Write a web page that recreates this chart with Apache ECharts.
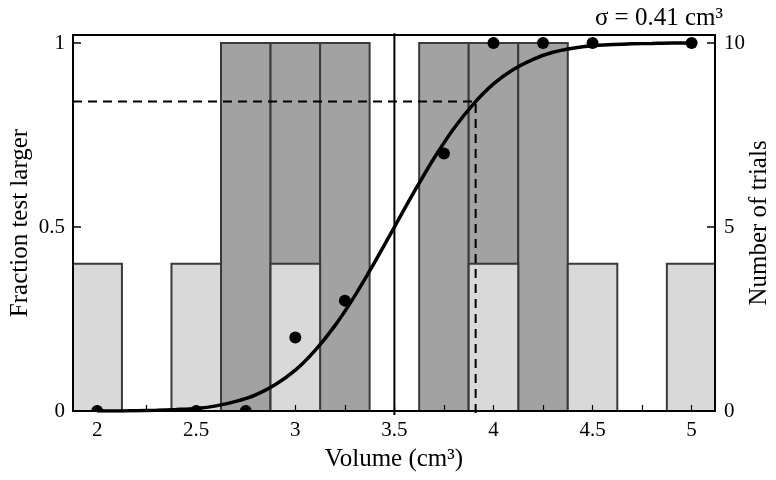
<!DOCTYPE html>
<html>
<head>
<meta charset="utf-8">
<script src="https://cdn.jsdelivr.net/npm/echarts@6/dist/echarts.min.js"></script>
<style>
  html, body { margin: 0; padding: 0; background: #fff; }
  #main { width: 776px; height: 480px; }
</style>
</head>
<body>
<div id="main"></div>
<script>
// test volumes (cm3) and their trial counts
var darkVolumes = [2.75, 3, 3.25, 3.75, 4, 4.25];
var darkTrials  = [10, 10, 10, 10, 10, 10];
var lightVolumes = [2, 2.5, 3, 4, 4.5, 5];
var lightTrials  = [4, 4, 4, 4, 4, 4];

// fraction of trials where test judged larger
var pointVolumes  = [2, 2.5, 2.75, 3, 3.25, 3.75, 4, 4.25, 4.5, 5];
var pointFraction = [0, 0, 0, 0.2, 0.3, 0.7, 1, 1, 1, 1];

// fitted curve
var curveX = [2.0, 2.1, 2.2, 2.3, 2.4, 2.5, 2.6, 2.7, 2.8, 2.9, 3.0, 3.1, 3.2, 3.3, 3.4, 3.5,
              3.6, 3.7, 3.8, 3.9, 4.0, 4.1, 4.2, 4.3, 4.4, 4.5, 4.6, 4.7, 4.8, 4.9, 5.0];
var curveY = [0.000, 0.000, 0.001, 0.002, 0.004, 0.007, 0.014, 0.026, 0.044, 0.072, 0.111, 0.165, 0.232, 0.313, 0.404, 0.500,
              0.596, 0.687, 0.768, 0.835, 0.889, 0.928, 0.956, 0.975, 0.986, 0.993, 0.996, 0.998, 0.999, 1.000, 1.000];

var xLabels = [2, 2.5, 3, 3.5, 4, 4.5, 5];
var xTicks = [2, 2.25, 2.5, 2.75, 3, 3.25, 3.5, 3.75, 4, 4.25, 4.5, 4.75, 5];
var leftTicks = [0, 0.5, 1];
var rightTicks = [0, 5, 10];

var MEAN = 3.5;      // point of subjective equality
var SIGMA = 0.41;
var FRAC_SIGMA = 0.841;
var BIN = 0.25;

var X_MIN = 1.878, X_MAX = 5.118;

var myChart = echarts.init(document.getElementById('main'));

function barRenderer(fill) {
    return function (params, api) {
        var x = api.value(0), h = api.value(1);
        var p0 = api.coord([x - BIN / 2, 0]);
        var p1 = api.coord([x + BIN / 2, h]);
        return {
            type: 'rect',
            shape: { x: p0[0], y: p1[1], width: p1[0] - p0[0], height: p0[1] - p1[1] },
            style: { fill: fill, stroke: '#3a3a3a', lineWidth: 2 }
        };
    };
}

// dots as custom so they get cut at the frame like the original
function dotRenderer(params, api) {
    var p = api.coord([api.value(0), api.value(1)]);
    return {
        type: 'circle',
        shape: { cx: p[0], cy: p[1], r: 6 },
        style: { fill: '#000' }
    };
}

function zip(a, b) {
    return a.map(function (v, i) { return [v, b[i]]; });
}

var black = '#000';

option = {
    animation: false,
    textStyle: { fontFamily: 'Liberation Serif', color: black },
    title: {
        text: 'σ = 0.41 cm³',
        right: 48,
        top: 1,
        textStyle: { fontFamily: 'Liberation Serif', fontSize: 25, fontWeight: 'normal', color: black }
    },
    grid: {
        left: 73, right: 61, top: 35, bottom: 69,
        outerBoundsMode: 'none',
        containLabel: false,
        show: true, borderColor: black, borderWidth: 2, backgroundColor: '#fff'
    },
    xAxis: {
        type: 'value',
        min: X_MIN, max: X_MAX,
        z: 10,
        name: 'Volume (cm³)',
        nameLocation: 'middle',
        nameGap: 36,
        nameMoveOverlap: false,
        nameTextStyle: { fontSize: 25, color: black, fontFamily: 'Liberation Serif' },
        axisLine: { lineStyle: { color: black, width: 2 } },
        axisTick: { inside: true, length: 6, customValues: xTicks, lineStyle: { color: black, width: 1.2 } },
        axisLabel: { customValues: xLabels, fontSize: 21, margin: 9, color: black },
        splitLine: { show: false }
    },
    yAxis: [{
        type: 'value',
        min: 0, max: 1.022,
        z: 10,
        name: 'Fraction test larger',
        nameLocation: 'middle',
        nameGap: 40,
        nameMoveOverlap: false,
        nameTextStyle: { fontSize: 25, color: black, fontFamily: 'Liberation Serif' },
        axisLine: { show: true, lineStyle: { color: black, width: 2 } },
        axisTick: { show: true, inside: true, length: 8, customValues: leftTicks, lineStyle: { color: black, width: 1.5 } },
        axisLabel: { customValues: leftTicks, fontSize: 21, margin: 8, color: black },
        splitLine: { show: false }
    }, {
        type: 'value',
        min: 0, max: 10.22,
        z: 10,
        position: 'right',
        name: 'Number of trials',
        nameLocation: 'middle',
        nameGap: 32,
        nameMoveOverlap: false,
        nameTextStyle: { fontSize: 25, color: black, fontFamily: 'Liberation Serif' },
        axisLine: { show: true, lineStyle: { color: black, width: 2 } },
        axisTick: { show: true, inside: true, length: 8, customValues: rightTicks, lineStyle: { color: black, width: 1.5 } },
        axisLabel: { customValues: rightTicks, fontSize: 21, margin: 9, color: black },
        splitLine: { show: false }
    }],
    series: [{
        type: 'custom',
        yAxisIndex: 1,
        z: 1,
        clip: true,
        renderItem: barRenderer('#a2a2a2'),
        encode: { x: 0, y: 1 },
        data: zip(darkVolumes, darkTrials)
    }, {
        type: 'custom',
        yAxisIndex: 1,
        z: 2,
        clip: true,
        renderItem: barRenderer('#d9d9d9'),
        encode: { x: 0, y: 1 },
        data: zip(lightVolumes, lightTrials)
    }, {
        // mean marker
        type: 'line',
        z: 3,
        clip: false,
        showSymbol: false,
        silent: true,
        lineStyle: { color: black, width: 2 },
        data: [[MEAN, -0.011], [MEAN, 1.027]]
    }, {
        // one sigma marker
        type: 'line',
        z: 3,
        clip: false,
        showSymbol: false,
        silent: true,
        lineStyle: { color: black, width: 2, type: [9, 6] },
        data: [[X_MIN, FRAC_SIGMA], [MEAN + SIGMA, FRAC_SIGMA], [MEAN + SIGMA, -0.011]]
    }, {
        type: 'line',
        z: 4,
        showSymbol: false,
        smooth: 0.3,
        lineStyle: { color: black, width: 3.5 },
        data: zip(curveX, curveY)
    }, {
        type: 'custom',
        z: 5,
        clip: true,
        renderItem: dotRenderer,
        encode: { x: 0, y: 1 },
        data: zip(pointVolumes, pointFraction)
    }]
};

myChart.setOption(option);
</script>
</body>
</html>
